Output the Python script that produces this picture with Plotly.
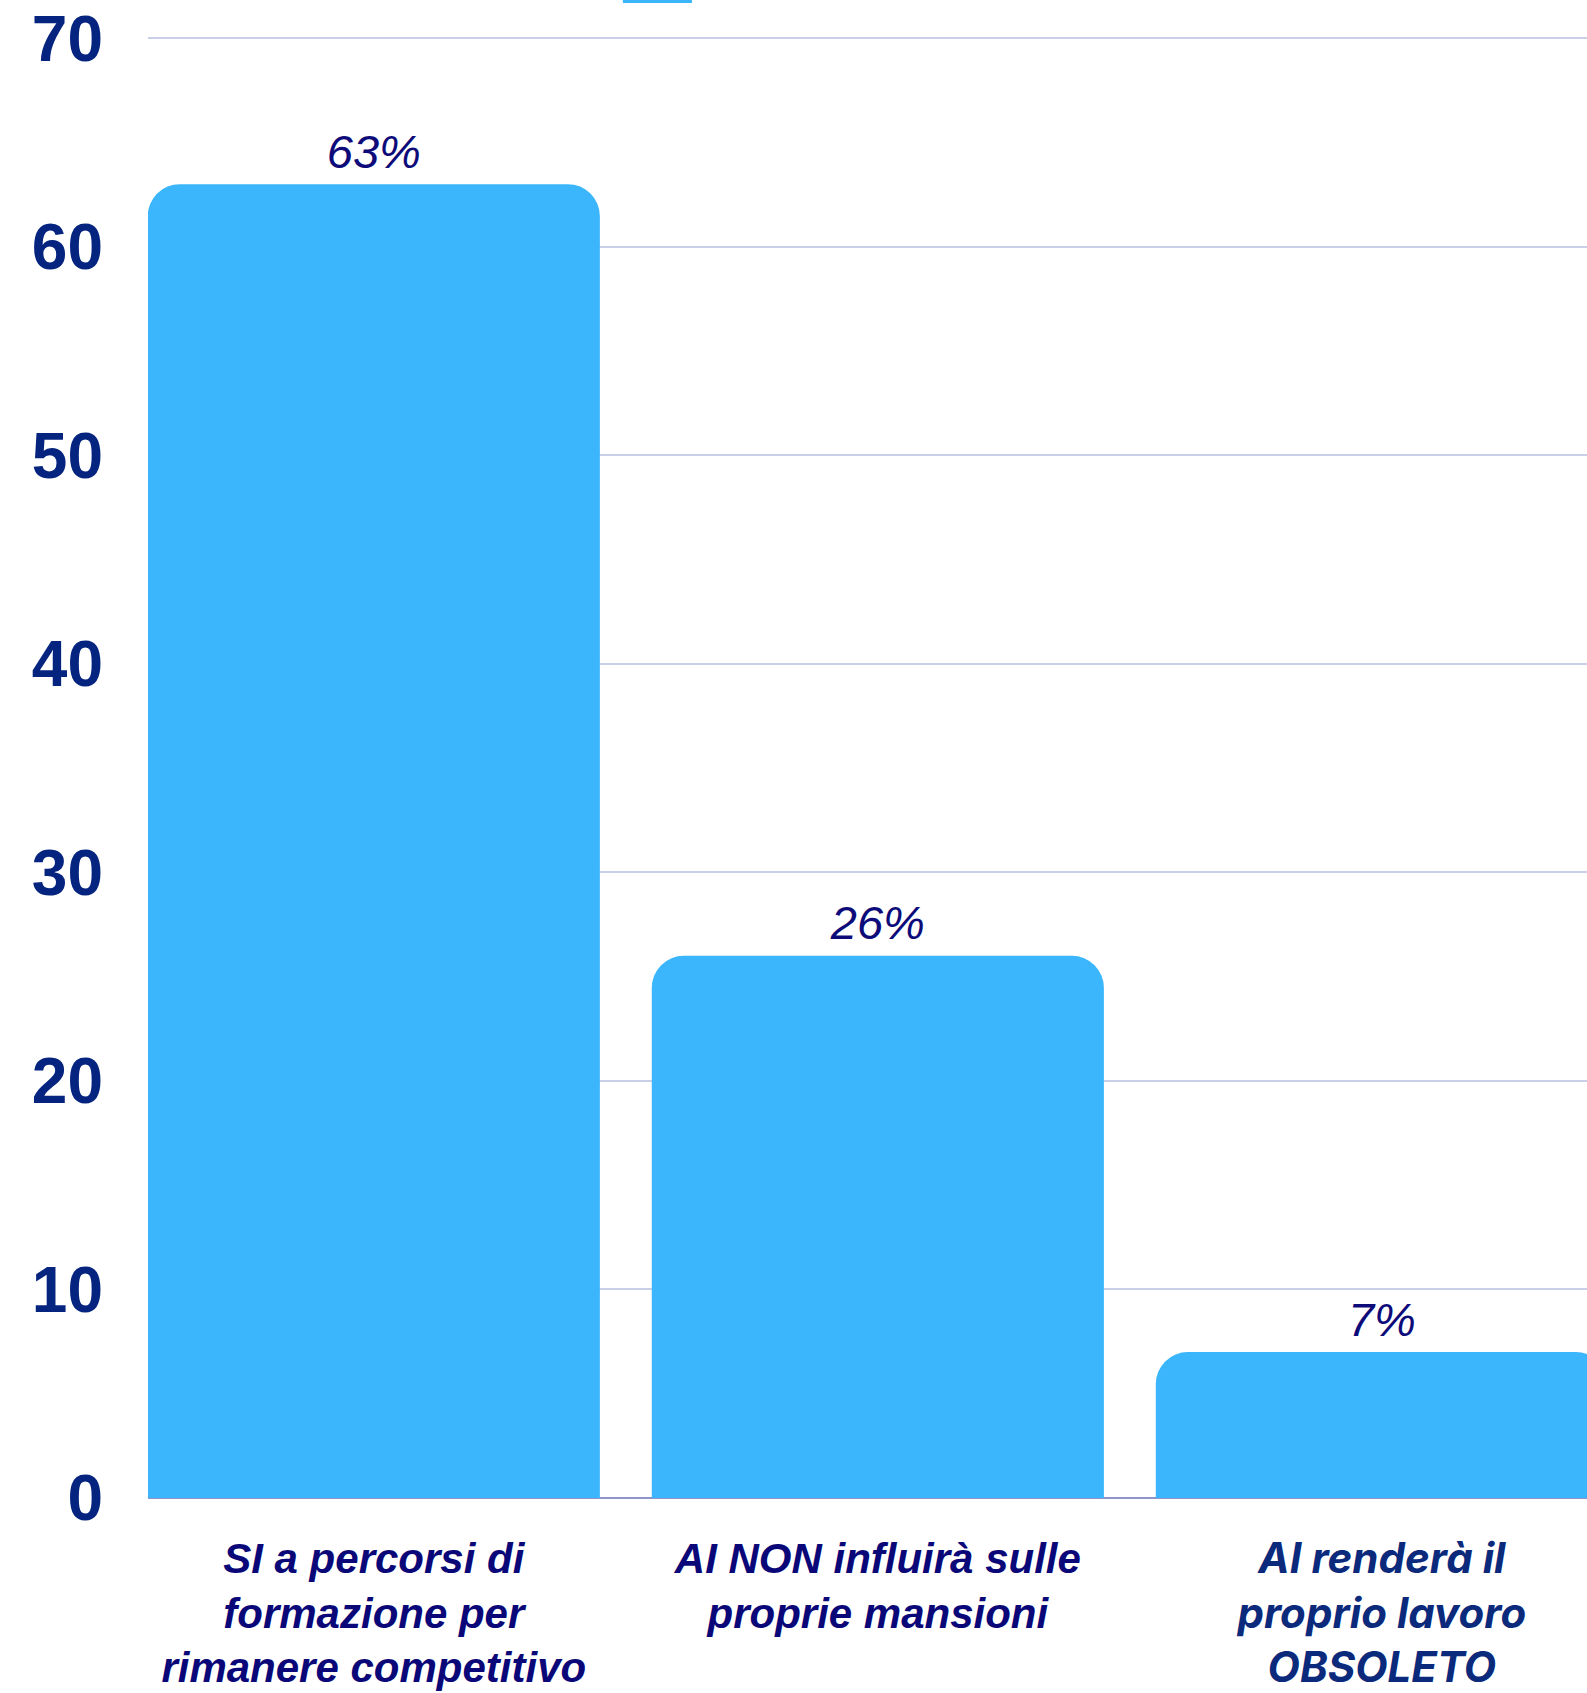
import plotly.graph_objects as go

categories = ["SI a percorsi di formazione per rimanere competitivo",
              "AI NON influirà sulle proprie mansioni",
              "AI renderà il proprio lavoro OBSOLETO"]
tick_labels = ["SI a percorsi di<br>formazione per<br>rimanere competitivo",
               "AI NON influirà sulle<br>proprie mansioni",
               "<span style=\"font-family:Inter, 'Open Sans', sans-serif;color:#0b2a7c\">AI renderà il<br>proprio lavoro<br>OBSOLETO</span>"]
values = [63, 26, 7]
value_labels = ["63%", "26%", "7%"]
y_ticks = [0, 10, 20, 30, 40, 50, 60, 70]

BAR_COLOR = "#3bb6fd"
NAVY = "#0a0878"
AXIS_NAVY = "#05247f"

fig = go.Figure()
fig.add_trace(go.Bar(
    x=categories, y=values,
    marker=dict(color=BAR_COLOR, cornerradius=32, line=dict(width=0)),
    hoverinfo="skip", showlegend=False,
))
fig.add_trace(go.Scatter(
    x=categories, y=values, text=value_labels,
    mode="markers+text", textposition="top center",
    marker=dict(size=6, opacity=0),
    textfont=dict(family="Liberation Sans, Arial, sans-serif", size=47,
                  color="#0d0b7a", style="italic"),
    hoverinfo="skip", showlegend=False, cliponaxis=False,
))

fig.update_layout(
    width=1587, height=1693,
    margin=dict(l=148, r=0, t=34, b=195, autoexpand=False),
    paper_bgcolor="white", plot_bgcolor="white",
    bargap=0.103,
    shapes=[dict(type="rect", xref="paper", yref="paper",
                 x0=0.330, x1=0.378, y0=1.0212, y1=1.0235,
                 fillcolor=BAR_COLOR, line=dict(width=0))],
)
fig.update_xaxes(
    range=[-0.448, 2.407],
    tickmode="array", tickvals=categories, ticktext=tick_labels,
    tickfont=dict(family="Liberation Sans, Arial, sans-serif", size=42,
                  color=NAVY, weight="bold", style="italic"),
    ticks="", showgrid=False, showline=False, zeroline=False,
    ticklabelstandoff=32,
)
fig.update_yaxes(
    range=[0, 70.2], tickmode="array", tickvals=y_ticks,
    tickfont=dict(family="Liberation Sans, Arial, sans-serif", size=64,
                  color=AXIS_NAVY, weight="bold"),
    showgrid=True, gridcolor="#c8cfe6", gridwidth=2,
    zeroline=True, zerolinecolor="#8f95c9", zerolinewidth=2,
    showline=False, ticks="", ticklabelstandoff=44,
)

fig.write_html("out.html", config={"displayModeBar": False},
               post_script="document.body.style.margin='0';document.body.style.overflow='hidden';")
